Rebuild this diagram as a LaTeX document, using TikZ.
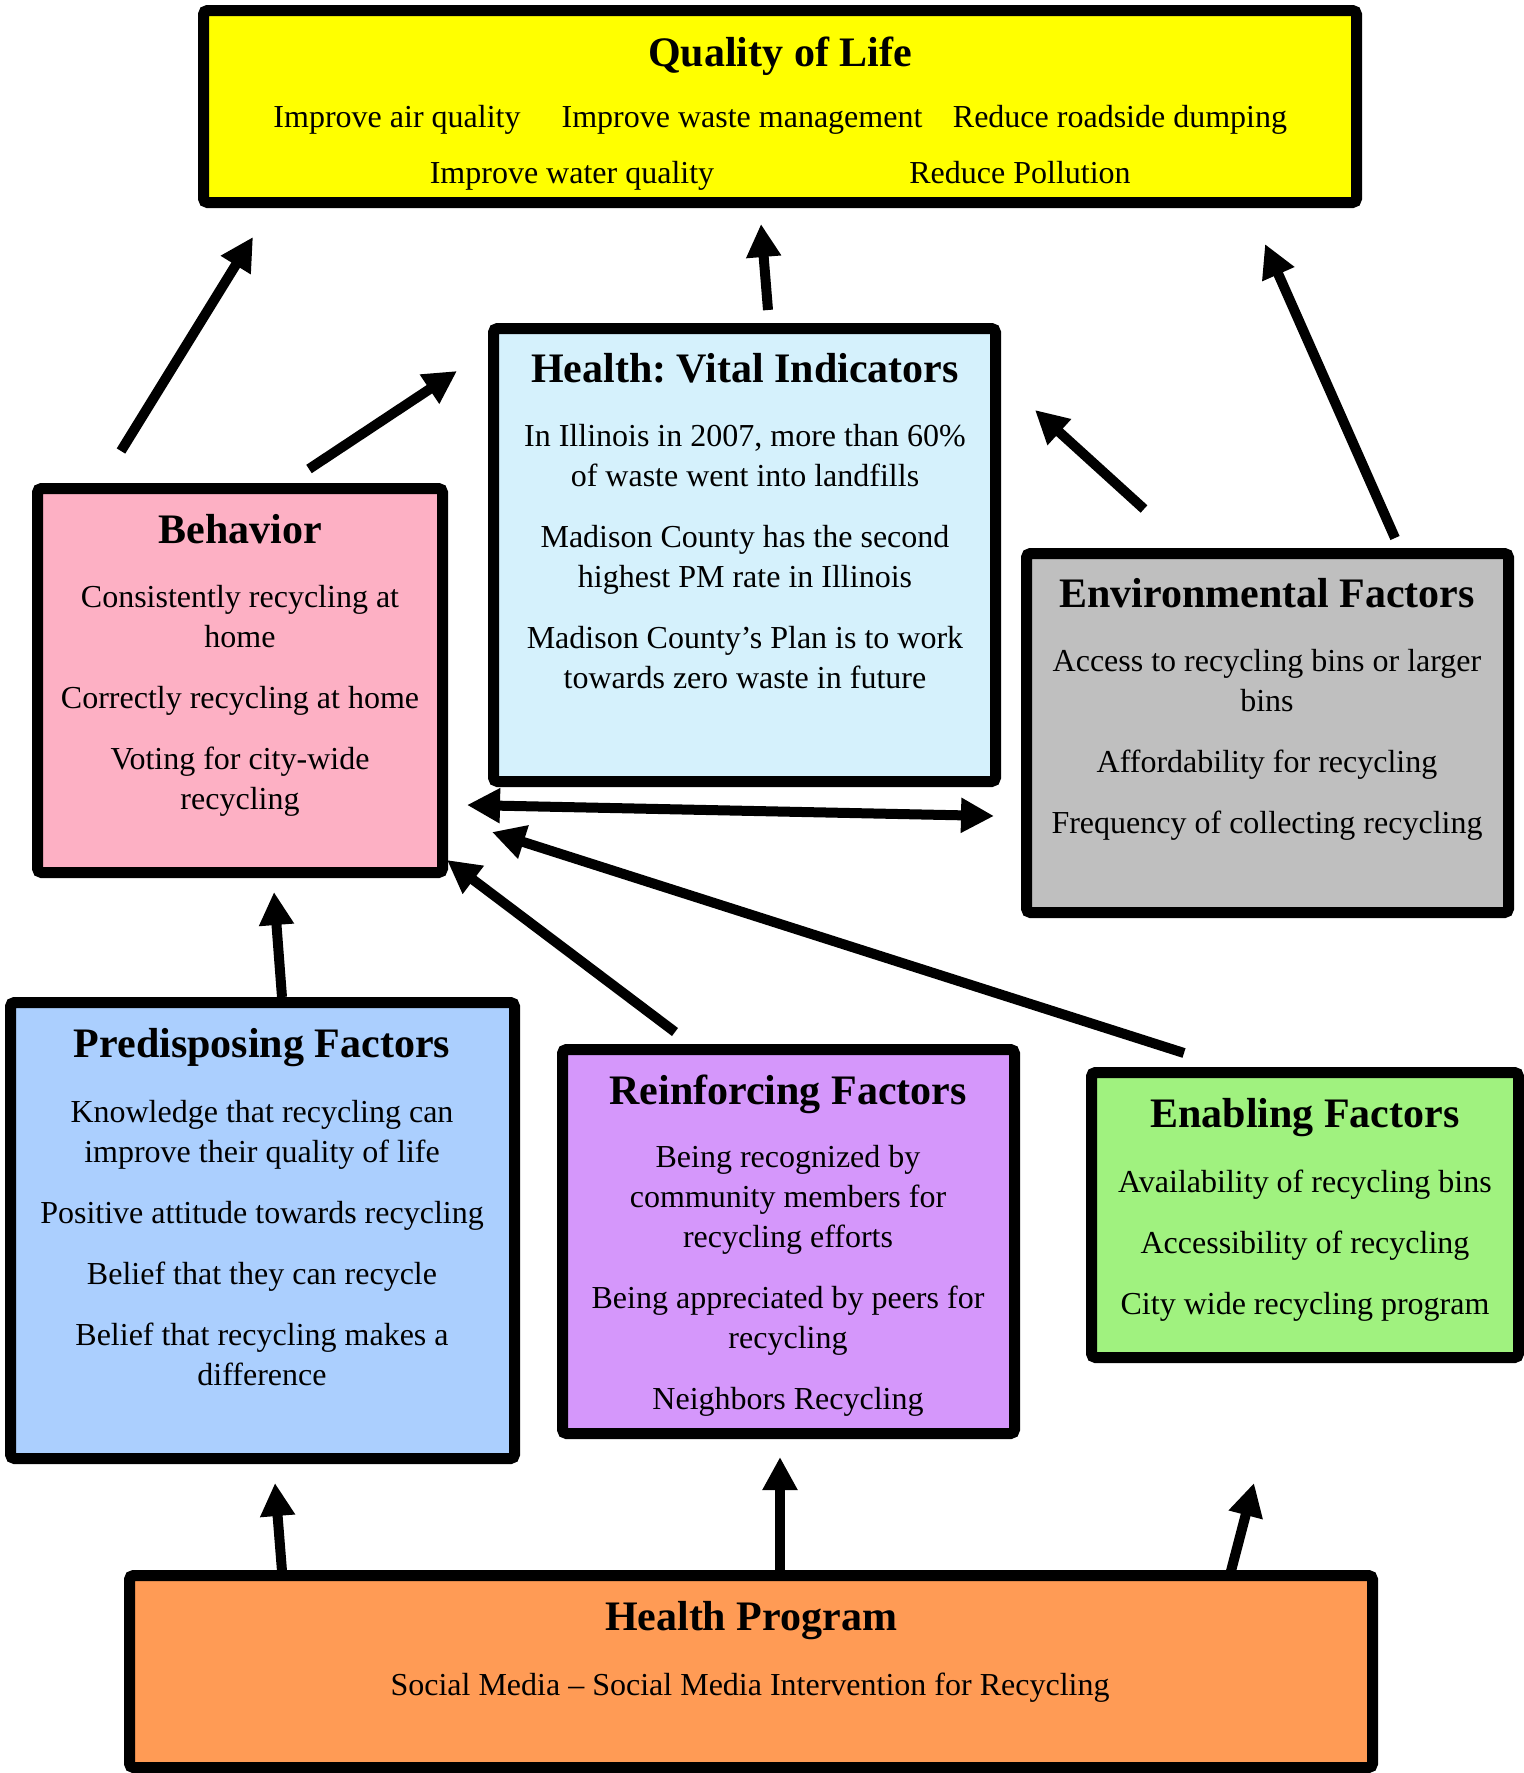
\documentclass[tikz,border=0pt]{standalone}
\usepackage{fontspec}
\setmainfont{Liberation Serif}
\usetikzlibrary{arrows.meta,fit}
\frenchspacing
\definecolor{qolc}{HTML}{FFFF00}
\definecolor{vitalc}{HTML}{D5F1FC}
\definecolor{behc}{HTML}{FDB0C4}
\definecolor{envc}{HTML}{BFBFBF}
\definecolor{predc}{HTML}{ABCFFE}
\definecolor{reinc}{HTML}{D597FB}
\definecolor{enabc}{HTML}{A0F27F}
\definecolor{progc}{HTML}{FF9B55}
\newcommand{\bodyfont}{\fontsize{16}{20}\selectfont}
\newcommand{\titlefont}{\fontsize{21}{25}\selectfont\bfseries}
\tikzset{
  panel/.style={draw=black, line width=5.5pt, rounded corners=2pt, inner sep=0pt},
  ttl/.style={anchor=base, inner sep=0pt, font=\titlefont},
  txt/.style={anchor=base, inner sep=0pt, font=\bodyfont},
  conn/.style={line width=5pt, -{Triangle[length=16.5pt,width=16.5pt]}},
  dconn/.style={line width=5pt, {Triangle[length=16.5pt,width=16.5pt]}-{Triangle[length=16.5pt,width=16.5pt]}}
}
\newcommand{\lines}[1]{\begin{tabular}[t]{@{}c@{}}#1\end{tabular}}
\begin{document}
\begin{tikzpicture}[x=0.5pt,y=-0.5pt]
\useasboundingbox (0,0) rectangle (1524,1773);
% boxes (outer edges inset by half the border)
\node[panel, fill=qolc,   fit={(203.5,10.5) (1356.5,202.5)}] (qol) {};
\node[panel, fill=vitalc, fit={(493.5,328.5) (995.5,781.5)}] (vital) {};
\node[panel, fill=behc,   fit={(37.5,488.5) (442.5,872.5)}] (beh) {};
\node[panel, fill=envc,   fit={(1026.5,553.5) (1508.5,912.5)}] (env) {};
\node[panel, fill=predc,  fit={(10.5,1002.5) (514.5,1458.5)}] (pred) {};
\node[panel, fill=reinc,  fit={(562.5,1049.5) (1014.5,1433.5)}] (rein) {};
\node[panel, fill=enabc,  fit={(1091.5,1072.5) (1518.5,1357.5)}] (enab) {};
\node[panel, fill=progc,  fit={(129.5,1575.5) (1372.5,1767.5)}] (prog) {};
% Quality of Life
\node[ttl] (qolt) at (780,66) {Quality of Life};
\node[txt] (qol1) at (397,127) {Improve air quality};
\node[txt] (qol2) at (742,127) {Improve waste management};
\node[txt] (qol3) at (1120,127) {Reduce roadside dumping};
\node[txt] (qol4) at (572,183) {Improve water quality};
\node[txt] (qol5) at (1020,183) {Reduce Pollution};
% Health: Vital Indicators
\node[ttl] (vitalt) at (745,382) {Health: Vital Indicators};
\node[txt] (vitalb) at (745,446) {\lines{In Illinois in 2007, more than 60\%\\ of waste went into landfills\\[10.5pt]
Madison County has the second\\ highest PM rate in Illinois\\[10.5pt]
Madison County’s Plan is to work\\ towards zero waste in future}};
% Behavior
\node[ttl] (beht) at (240,543) {Behavior};
\node[txt] (behb) at (240,607) {\lines{Consistently recycling at\\ home\\[10.5pt]
Correctly recycling at home\\[10.5pt]
Voting for city-wide\\ recycling}};
% Environmental
\node[ttl] (envt) at (1267,607) {Environmental Factors};
\node[txt] (envb) at (1267,671) {\lines{Access to recycling bins or larger\\ bins\\[10.5pt]
Affordability for recycling\\[10.5pt]
Frequency of collecting recycling}};
% Predisposing
\node[ttl] (predt) at (262,1057) {Predisposing Factors};
\node[txt] (predb) at (262,1122) {\lines{Knowledge that recycling can\\ improve their quality of life\\[10.5pt]
Positive attitude towards recycling\\[10.5pt]
Belief that they can recycle\\[10.5pt]
Belief that recycling makes a\\ difference}};
% Reinforcing
\node[ttl] (reint) at (788,1104) {Reinforcing Factors};
\node[txt] (reinb) at (788,1167) {\lines{Being recognized by\\ community members for\\ recycling efforts\\[10.5pt]
Being appreciated by peers for\\ recycling\\[10.5pt]
Neighbors Recycling}};
% Enabling
\node[ttl] (enabt) at (1305,1127) {Enabling Factors};
\node[txt] (enabb) at (1305,1192) {\lines{Availability of recycling bins\\[10.5pt]
Accessibility of recycling\\[10.5pt]
City wide recycling program}};
% Health Program
\node[ttl] (progt) at (751,1630) {Health Program};
\node[txt] (progb) at (750,1695) {Social Media – Social Media Intervention for Recycling};
% connector end points
\coordinate (a1s) at (121,451);   \coordinate (a1e) at (253,237);
\coordinate (a2s) at (768,310);   \coordinate (a2e) at (761,224);
\coordinate (a3s) at (1395,538);  \coordinate (a3e) at (1265,244);
\coordinate (a4s) at (309,469);   \coordinate (a4e) at (457,371);
\coordinate (a5s) at (1144,509);  \coordinate (a5e) at (1035,410);
\coordinate (a6s) at (467,805);   \coordinate (a6e) at (994,816);
\coordinate (a7s) at (282,997);   \coordinate (a7e) at (274,892);
\coordinate (a8s) at (675,1032);  \coordinate (a8e) at (447,860);
\coordinate (a9s) at (1184,1053); \coordinate (a9e) at (492,832);
\coordinate (a10s) at (282,1571); \coordinate (a10e) at (275,1483);
\coordinate (a11s) at (780,1571); \coordinate (a11e) at (780,1457);
\coordinate (a12s) at (1231,1571);\coordinate (a12e) at (1254,1483);
\draw[conn] (a1s) -- (a1e);
\draw[conn] (a2s) -- (a2e);
\draw[conn] (a3s) -- (a3e);
\draw[conn] (a4s) -- (a4e);
\draw[conn] (a5s) -- (a5e);
\draw[dconn] (a6s) -- (a6e);
\draw[conn] (a7s) -- (a7e);
\draw[conn] (a8s) -- (a8e);
\draw[conn] (a9s) -- (a9e);
\draw[conn] (a10s) -- (a10e);
\draw[conn] (a11s) -- (a11e);
\draw[conn] (a12s) -- (a12e);
\end{tikzpicture}
\end{document}
